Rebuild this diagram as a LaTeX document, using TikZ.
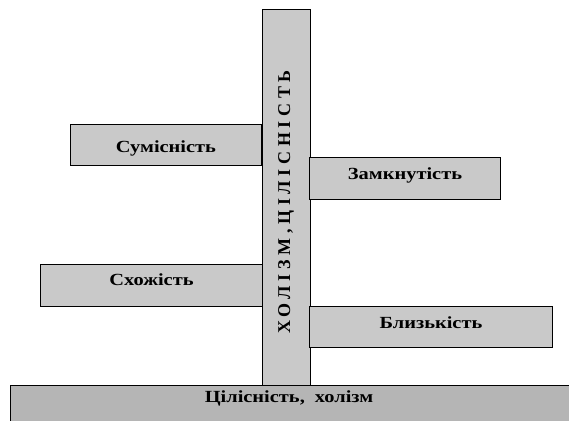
\documentclass[tikz,border=0pt]{standalone}
\usepackage{fontspec}
\setmainfont{Liberation Serif}
\definecolor{boxgray}{gray}{0.79}
\definecolor{bargray}{gray}{0.71}
\begin{document}
\begin{tikzpicture}[x=1pt,y=-1pt,
  labelfont/.style={font=\fontsize{17}{19}\selectfont\bfseries\addfontfeature{FakeStretch=1.2}},
  box/.style={draw=black,line width=1pt,fill=boxgray,inner sep=0pt,anchor=north west,labelfont},
  ]
\useasboundingbox (0,0) rectangle (569,420);
\clip (0,0) rectangle (569,420);
% vertical bar
\node[box,minimum width=48pt,minimum height=376pt] (vbar) at (262,9) {};
\node[rotate=90,font=\fontsize{18}{20}\selectfont\bfseries\addfontfeature{LetterSpace=26}] (vtext) at (286,202) {ХОЛІЗМ,ЦІЛІСНІСТЬ};
% bottom bar
\node[box,fill=bargray,minimum width=570pt,minimum height=45pt] (base) at (10,385) {};
\node[labelfont,inner sep=0pt,text height=12pt,text depth=3pt] (basetext) at (289,398) {Цілісність,\hspace{5pt} холізм};
% side boxes
\node[box,minimum width=191pt,minimum height=41pt,text height=15pt,text depth=0pt] (sum) at (70,124) {Сумісність};
\node[box,minimum width=222pt,minimum height=42pt,text height=7pt,text depth=8pt] (sch) at (40,264) {Схожість};
\node[box,minimum width=191pt,minimum height=42pt,text height=8pt,text depth=7pt] (zam) at (309,157) {Замкнутість};
\node[box,minimum width=243pt,minimum height=41pt,text height=8pt,text depth=6pt] (bli) at (309,306) {Близькість};
\end{tikzpicture}
\end{document}
